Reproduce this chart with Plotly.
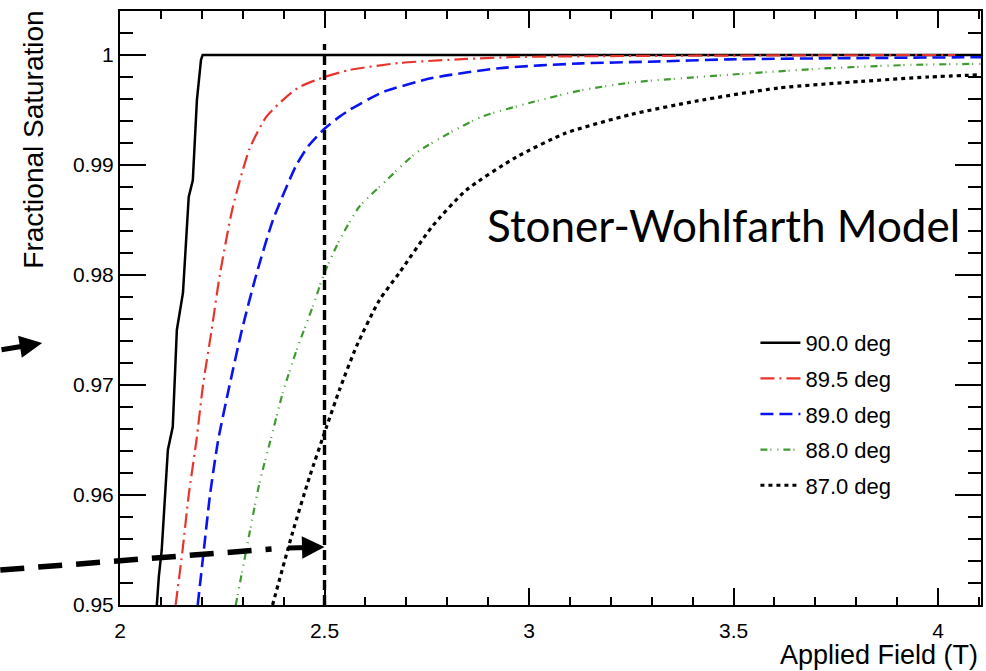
import plotly.graph_objects as go

# ---------------- data ----------------
field_900 = [2.090, 2.095, 2.102, 2.117, 2.129, 2.139, 2.154, 2.168, 2.178, 2.188, 2.198, 2.202, 4.105]
sat_900 = [0.950, 0.9526, 0.955, 0.9641, 0.9662, 0.975, 0.9784, 0.9871, 0.9886, 0.9959, 0.99955, 1.000, 1.000]

field_895 = [2.136, 2.153, 2.168, 2.187, 2.203, 2.224, 2.244, 2.276, 2.317, 2.358, 2.407, 2.439, 2.500,
             2.561, 2.683, 2.846, 2.968, 3.200, 3.600, 4.105]
sat_895 = [0.950, 0.955, 0.960, 0.965, 0.970, 0.975, 0.980, 0.9862, 0.9915, 0.9944, 0.9962, 0.9971, 0.998,
           0.99864, 0.99927, 0.99964, 0.99982, 0.9999, 0.99996, 1.000]

field_890 = [2.190, 2.205, 2.220, 2.240, 2.268, 2.298, 2.333, 2.374, 2.430, 2.460, 2.500, 2.537, 2.561,
             2.641, 2.763, 2.927, 3.129, 3.293, 3.488, 3.732, 4.105]
sat_890 = [0.950, 0.955, 0.960, 0.965, 0.970, 0.975, 0.980, 0.985, 0.9899, 0.9917, 0.9933, 0.9944, 0.9950,
           0.9966, 0.9979, 0.9988, 0.99924, 0.99939, 0.9996, 0.9997, 0.9998]

field_880 = [2.283, 2.317, 2.341, 2.366, 2.398, 2.432, 2.471, 2.500, 2.537, 2.585, 2.651, 2.724, 2.805,
             2.885, 3.007, 3.129, 3.250, 3.488, 3.732, 3.934, 4.105]
sat_880 = [0.950, 0.9566, 0.9611, 0.9647, 0.9693, 0.9732, 0.9771, 0.9802, 0.9832, 0.9862, 0.9886, 0.9911,
           0.9929, 0.9944, 0.9957, 0.9968, 0.9975, 0.9982, 0.9988, 0.9991, 0.9992]

field_870 = [2.373, 2.422, 2.463, 2.505, 2.537, 2.578, 2.634, 2.683, 2.763, 2.846, 2.968, 3.090, 3.250,
             3.407, 3.610, 3.812, 3.976, 4.105]
sat_870 = [0.950, 0.9566, 0.9616, 0.9662, 0.9696, 0.9735, 0.9777, 0.9802, 0.9844, 0.9877, 0.9907, 0.9929,
           0.9946, 0.9958, 0.9970, 0.9976, 0.9980, 0.9982]

series_names = ["90.0 deg", "89.5 deg", "89.0 deg", "88.0 deg", "87.0 deg"]
marker_field = 2.5
marker_sat_top = 1.001
arrow_sat = 0.95527

x_range = [2.0, 4.105]
y_range = [0.95, 1.004]

FONT = "Liberation Sans, Arial, Helvetica, sans-serif"

fig = go.Figure()

styles = [
    dict(color="#000000", width=2.5, dash="solid"),
    dict(color="#e8352b", width=2.2, dash="14px,5px,2px,5px", shape="spline", smoothing=0.6),
    dict(color="#0a14f0", width=2.6, dash="13px,6px", shape="spline", smoothing=0.6),
    dict(color="#3f9a2f", width=2.2, dash="7px,3px,1px,6px,1px,5px", shape="spline", smoothing=0.6),
    dict(color="#000000", width=3.2, dash="4px,4px", shape="spline", smoothing=0.6),
]
data = [(field_900, sat_900), (field_895, sat_895), (field_890, sat_890),
        (field_880, sat_880), (field_870, sat_870)]

for i, ((xs, ys), name, st) in enumerate(zip(data, series_names, styles)):
    fig.add_trace(go.Scatter(x=xs, y=ys, mode="lines", name=name, line=st,
                             legendgroup=f"g{i}"))

# vertical dashed marker line at 2.5 T
fig.add_trace(go.Scatter(x=[marker_field, marker_field], y=[y_range[0], marker_sat_top],
                         mode="lines", showlegend=False, hoverinfo="skip",
                         line=dict(color="black", width=3.4, dash="10px,5px")))

# ROOT-style inside ticks, mirrored on all four sides
fig.update_xaxes(range=x_range, dtick=0.5, tick0=2,
                 showline=True, linecolor="black", linewidth=2, mirror="allticks",
                 ticks="inside", ticklen=17, tickcolor="black", tickwidth=1.6,
                 minor=dict(ticks="inside", dtick=0.1, ticklen=8, tickcolor="black", tickwidth=1.6),
                 showgrid=False, zeroline=False, ticklabelstandoff=6,
                 tickfont=dict(family=FONT, size=21, color="black"))
fig.update_yaxes(range=y_range, dtick=0.01, tick0=0.95,
                 showline=True, linecolor="black", linewidth=2, mirror="allticks",
                 ticks="inside", ticklen=26, tickcolor="black", tickwidth=1.6,
                 minor=dict(ticks="inside", dtick=0.002, ticklen=13, tickcolor="black", tickwidth=1.6),
                 showgrid=False, zeroline=False,
                 tickfont=dict(family=FONT, size=21, color="black"))

shapes = [
    # dashed arrow shaft (extends outside the frame on the left)
    dict(type="line", xref="paper", yref="paper", x0=-0.139, y0=0.0589, x1=0.176, y1=0.0943,
         line=dict(color="black", width=5.5, dash="24px,14px")),
]

annotations = [
    dict(text="Stoner-Wohlfarth Model", xref="paper", yref="paper", x=0.7005, y=0.64,
         showarrow=False, font=dict(family="Lato, Open Sans, sans-serif", size=44, color="black"),
         xanchor="center", yanchor="middle"),
    dict(text="Fractional Saturation", xref="paper", yref="paper", x=-0.1008, y=0.7837,
         textangle=-90, showarrow=False, font=dict(family=FONT, size=28, color="black"),
         xanchor="center", yanchor="middle"),
    dict(text="Applied Field (T)", xref="paper", yref="paper", x=0.8818, y=-0.0842,
         showarrow=False, font=dict(family=FONT, size=27, color="black"),
         xanchor="center", yanchor="middle"),
    # solid arrow on the left edge
    dict(text="", xref="paper", yref="paper", x=-0.0904, y=0.441, ax=-44, ay=7,
         showarrow=True, arrowhead=2, arrowsize=0.9, arrowwidth=5, arrowcolor="black"),
    # head of the dashed arrow
    dict(text="", xref="x", yref="y", x=marker_field, y=arrow_sat, ax=-38, ay=1,
         showarrow=True, arrowhead=2, arrowsize=0.9, arrowwidth=5, arrowcolor="black"),
]

fig.update_layout(
    width=986, height=671,
    margin=dict(l=120, r=3, t=11, b=66),
    paper_bgcolor="white", plot_bgcolor="white",
    showlegend=True,
    legend=dict(x=0.738, y=0.3215, xanchor="left", yanchor="middle",
                font=dict(family=FONT, size=22, color="black"),
                bgcolor="rgba(0,0,0,0)", traceorder="grouped", tracegroupgap=4,
                itemwidth=40),
    annotations=annotations,
    shapes=shapes,
)

fig.write_html("out.html")
